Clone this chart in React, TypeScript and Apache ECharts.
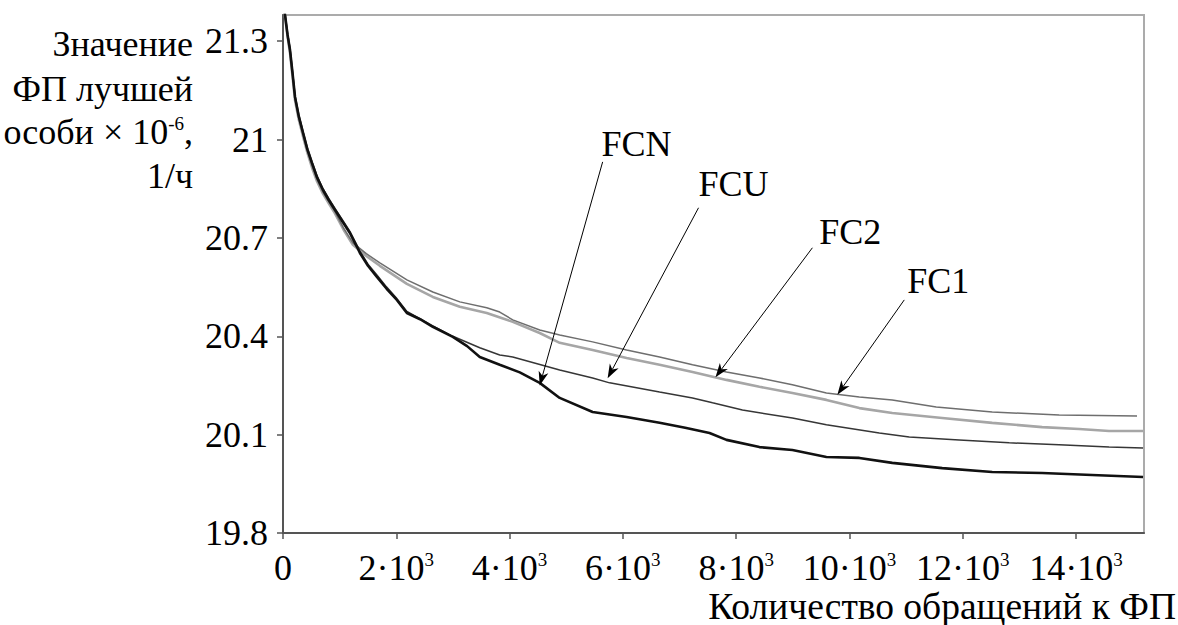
import React, { useEffect, useRef } from 'react';
import * as echarts from 'echarts';

const FONT = "'Liberation Serif', 'Times New Roman', serif";

// X axis ticks (number of fitness-function calls)
const xTickValues = [0, 2000, 4000, 6000, 8000, 10000, 12000, 14000];
// Y axis ticks (best individual fitness × 10^-6, 1/h)
const yTickValues = [19.8, 20.1, 20.4, 20.7, 21.0, 21.3];

const seriesNames = ['FC2', 'FC1', 'FCU', 'FCN'];

const fcnX = [0, 35, 80, 123, 170, 212, 280, 353, 430, 511, 600, 705, 810, 917, 1050, 1181, 1305, 1358, 1500, 1658, 1830, 2010, 2187, 2420, 2645, 2998, 3250, 3474, 3826, 4180, 4532, 4885, 5466, 6066, 6648, 7100, 7530, 7829, 8411, 8993, 9593, 10175, 10756, 11638, 12520, 13402, 14283, 15183];
const fcnY = [21.45, 21.381, 21.32, 21.274, 21.2, 21.13, 21.07, 21.021, 20.97, 20.929, 20.885, 20.847, 20.815, 20.786, 20.75, 20.715, 20.673, 20.654, 20.615, 20.581, 20.545, 20.511, 20.471, 20.452, 20.429, 20.398, 20.37, 20.337, 20.313, 20.29, 20.258, 20.212, 20.169, 20.154, 20.136, 20.121, 20.105, 20.084, 20.062, 20.053, 20.032, 20.029, 20.014, 19.998, 19.986, 19.983, 19.977, 19.971];

const fcuX = [0, 35, 80, 123, 170, 212, 280, 353, 430, 511, 600, 705, 810, 917, 1050, 1181, 1305, 1358, 1500, 1658, 1830, 2010, 2187, 2645, 2998, 3474, 3826, 4056, 4885, 5466, 5766, 6648, 7230, 7583, 8111, 8993, 9593, 10527, 11056, 11938, 12820, 13702, 14583, 15183];
const fcuY = [21.46, 21.385, 21.325, 21.28, 21.205, 21.135, 21.075, 21.025, 20.975, 20.933, 20.89, 20.85, 20.82, 20.79, 20.755, 20.72, 20.678, 20.66, 20.62, 20.587, 20.55, 20.515, 20.476, 20.432, 20.4, 20.365, 20.343, 20.337, 20.297, 20.273, 20.258, 20.23, 20.212, 20.197, 20.175, 20.151, 20.13, 20.105, 20.093, 20.084, 20.075, 20.069, 20.062, 20.059];

const fc1X = [0, 35, 80, 123, 170, 212, 280, 353, 430, 511, 600, 705, 810, 917, 1070, 1234, 1470, 1710, 2187, 2645, 3121, 3597, 3826, 4056, 4532, 4885, 5466, 6066, 6648, 7230, 7829, 8411, 8993, 9593, 10175, 10756, 11532, 12520, 13702, 15077];
const fc1Y = [21.44, 21.378, 21.318, 21.27, 21.195, 21.125, 21.065, 21.015, 20.965, 20.92, 20.878, 20.84, 20.81, 20.78, 20.73, 20.685, 20.652, 20.624, 20.572, 20.535, 20.505, 20.487, 20.474, 20.45, 20.419, 20.404, 20.383, 20.358, 20.337, 20.313, 20.291, 20.273, 20.252, 20.227, 20.215, 20.206, 20.184, 20.169, 20.16, 20.157];

const fc2X = [0, 35, 80, 123, 170, 212, 280, 353, 430, 511, 600, 705, 810, 917, 1070, 1234, 1470, 1710, 2187, 2645, 3121, 3597, 4056, 4532, 4885, 5466, 6066, 6648, 7230, 7829, 8411, 8993, 9593, 10175, 10756, 11638, 12520, 13402, 14054, 14583, 15183];
const fc2Y = [21.44, 21.376, 21.315, 21.265, 21.19, 21.12, 21.06, 21.01, 20.96, 20.915, 20.873, 20.835, 20.805, 20.775, 20.725, 20.679, 20.645, 20.615, 20.56, 20.52, 20.49, 20.471, 20.444, 20.41, 20.38, 20.358, 20.334, 20.313, 20.291, 20.267, 20.246, 20.227, 20.206, 20.181, 20.166, 20.151, 20.136, 20.123, 20.117, 20.111, 20.111];

// Annotations (in data coordinates)
const annLabels = ['FCN', 'FCU', 'FC2', 'FC1'];
const annLabelX = [6242, 7953, 10016, 11568];
const annLabelY = [20.987, 20.865, 20.719, 20.569];
const annStartX = [5643, 7336, 9346, 10968];
const annStartY = [20.932, 20.792, 20.67, 20.511];
const annEndX = [4532, 5731, 7635, 9787];
const annEndY = [20.25, 20.272, 20.275, 20.222];

const zip = (xs: number[], ys: number[]) => xs.map((x, i) => [x, ys[i]]);

export default function App() {
  const ref = useRef<HTMLDivElement>(null);

  useEffect(() => {
    const chart = echarts.init(ref.current!, null, { renderer: 'svg' });

    const lineStyles = [
      { color: '#a6a6a6', width: 2.6 },
      { color: '#6e6e6e', width: 1.5 },
      { color: '#363636', width: 1.5 },
      { color: '#111111', width: 2.6 },
    ];
    const datas = [zip(fc2X, fc2Y), zip(fc1X, fc1Y), zip(fcuX, fcuY), zip(fcnX, fcnY)];

    chart.setOption({
      animation: false,
      backgroundColor: '#ffffff',
      textStyle: { fontFamily: FONT },
      grid: {
        left: 283,
        top: 15,
        right: 34,
        bottom: 92,
        show: true,
        borderColor: '#ababab',
        borderWidth: 2,
        backgroundColor: 'transparent',
      },
      xAxis: {
        type: 'value',
        min: 0,
        max: 15200,
        interval: 2000,
        splitLine: { show: false },
        axisLine: { show: true, onZero: false, lineStyle: { color: '#555', width: 2 } },
        axisTick: { show: true, length: 6, customValues: xTickValues, lineStyle: { color: '#555', width: 1.5 } },
        axisLabel: {
          customValues: xTickValues,
          margin: 17,
          color: '#000',
          fontFamily: FONT,
          fontSize: 36,
          formatter: (v: number) => (v === 0 ? '{n|0}' : `{n|${v / 1000}·10}{s|3}`),
          rich: {
            n: { fontSize: 36, fontFamily: FONT, color: '#000', lineHeight: 36 },
            s: { fontSize: 19, fontFamily: FONT, color: '#000', lineHeight: 17, verticalAlign: 'top' },
          },
        },
      },
      yAxis: {
        type: 'value',
        min: 19.8,
        max: 21.38,
        interval: 0.3,
        splitLine: { show: false },
        axisLine: { show: true, onZero: false, lineStyle: { color: '#555', width: 2 } },
        axisTick: { show: true, length: 6, customValues: yTickValues, lineStyle: { color: '#555', width: 1.5 } },
        axisLabel: {
          customValues: yTickValues,
          margin: 15,
          color: '#000',
          fontSize: 36,
          fontFamily: FONT,
          formatter: (v: number) => String(+v.toFixed(1)),
        },
      },
      series: seriesNames.map((name, i) => ({
        name,
        type: 'line',
        data: datas[i],
        showSymbol: false,
        symbol: 'none',
        clip: true,
        lineStyle: lineStyles[i],
        z: 2 + i,
      })),
    });

    const gfx: any[] = [
      { type: 'text', x: 193, y: 43.5, style: { text: 'Значение', fontSize: 36, fontFamily: FONT, fill: '#000', align: 'right', verticalAlign: 'middle' } },
      { type: 'text', x: 193, y: 88.5, style: { text: 'ФП лучшей', fontSize: 36, fontFamily: FONT, fill: '#000', align: 'right', verticalAlign: 'middle' } },
      {
        type: 'text', x: 193, y: 131.5,
        style: {
          text: '{m|особи × 10}{s|-6}{m|,}',
          align: 'right',
          verticalAlign: 'middle',
          fill: '#000',
          fontFamily: FONT,
          fontSize: 36,
          rich: {
            m: { fontSize: 36, fontFamily: FONT, fill: '#000', lineHeight: 36 },
            s: { fontSize: 19, fontFamily: FONT, fill: '#000', lineHeight: 22, verticalAlign: 'top' },
          },
        },
      },
      { type: 'text', x: 193, y: 175.5, style: { text: '1/ч', fontSize: 36, fontFamily: FONT, fill: '#000', align: 'right', verticalAlign: 'middle' } },
      { type: 'text', x: 1176, y: 606, style: { text: 'Количество обращений к ФП', fontSize: 37.5, fontFamily: FONT, fill: '#000', align: 'right', verticalAlign: 'middle' } },
    ];

    annLabels.forEach((label, i) => {
      const lp = chart.convertToPixel({ gridIndex: 0 }, [annLabelX[i], annLabelY[i]]) as number[];
      const sp = chart.convertToPixel({ gridIndex: 0 }, [annStartX[i], annStartY[i]]) as number[];
      const ep = chart.convertToPixel({ gridIndex: 0 }, [annEndX[i], annEndY[i]]) as number[];
      const dx = ep[0] - sp[0];
      const dy = ep[1] - sp[1];
      const len = Math.sqrt(dx * dx + dy * dy);
      const ux = dx / len;
      const uy = dy / len;
      const nx = -uy;
      const ny = ux;
      const back = [ep[0] - ux * 14, ep[1] - uy * 14];
      const notch = [ep[0] - ux * 10, ep[1] - uy * 10];
      gfx.push({
        type: 'line',
        shape: { x1: sp[0], y1: sp[1], x2: notch[0], y2: notch[1] },
        style: { stroke: '#000', lineWidth: 1 },
        z: 100,
      });
      gfx.push({
        type: 'polygon',
        shape: {
          points: [
            [ep[0], ep[1]],
            [back[0] + nx * 5, back[1] + ny * 5],
            notch,
            [back[0] - nx * 5, back[1] - ny * 5],
          ],
        },
        style: { fill: '#000' },
        z: 100,
      });
      gfx.push({
        type: 'text',
        x: lp[0],
        y: lp[1],
        style: { text: label, fontSize: 36, fontFamily: FONT, fill: '#000', align: 'center', verticalAlign: 'middle' },
        z: 100,
      });
    });

    chart.setOption({ graphic: gfx });

    return () => {
      chart.dispose();
    };
  }, []);

  return (
    <div
      ref={ref}
      style={{ position: 'absolute', left: 0, top: 0, width: 1178, height: 625, background: '#fff' }}
    />
  );
}
